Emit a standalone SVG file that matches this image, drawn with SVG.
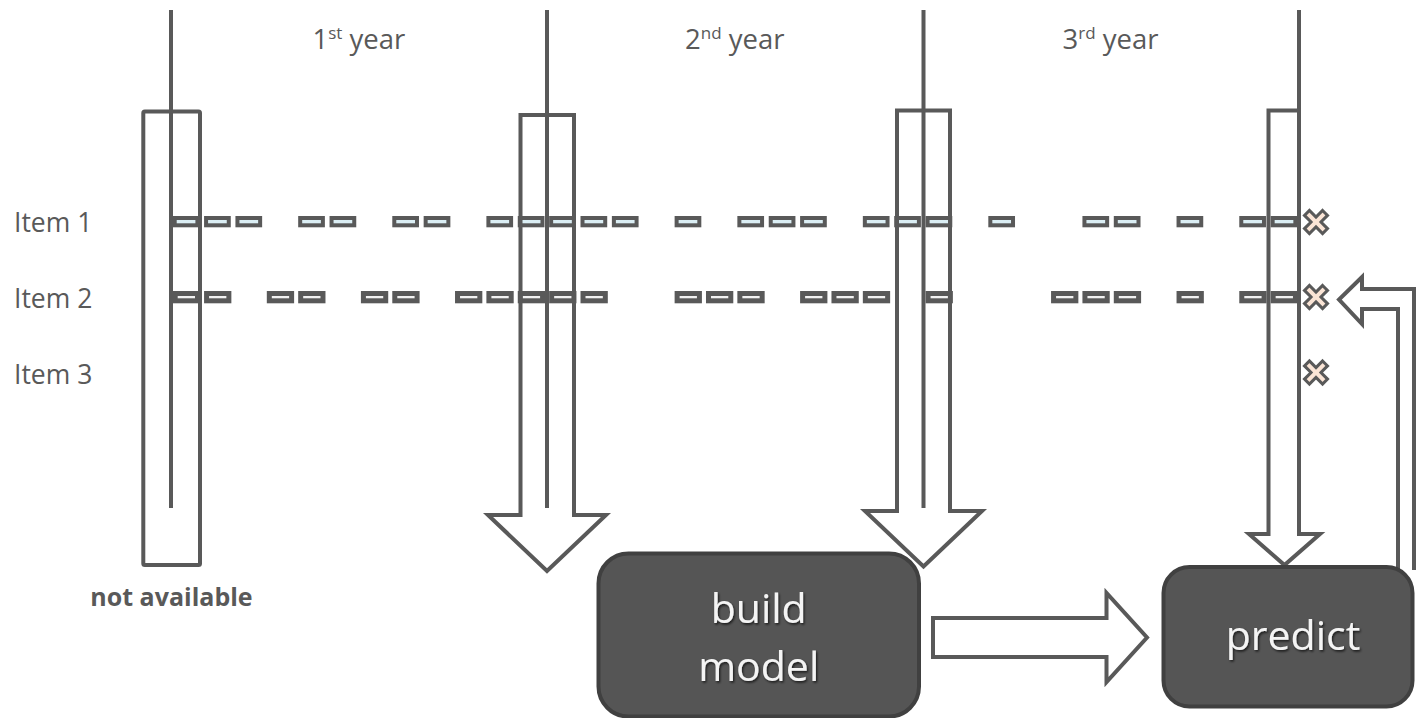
<svg xmlns="http://www.w3.org/2000/svg" width="1416" height="718" viewBox="0 0 1416 718">
<defs>
<style>
.ln{stroke:#595959;stroke-width:4;fill:none}
.ar{stroke:#595959;stroke-width:4;fill:none;stroke-linejoin:miter}
.d1{fill:#dbeef4;stroke:#595959;stroke-width:4}
.d2{fill:#f2f2f2;stroke:#595959;stroke-width:5}
.lbl{font-family:"Open Sans","Liberation Sans",sans-serif;font-size:26.5px;fill:#595959}
.yr{font-family:"Open Sans","Liberation Sans",sans-serif;font-size:27.5px;fill:#595959}
.box{fill:#555555;stroke:#404040;stroke-width:4}
.bt{font-family:"Open Sans","Liberation Sans",sans-serif;font-size:41px;fill:#f4f4f4;text-anchor:middle}
.xm{fill:#fbe5d6;stroke:#595959;stroke-width:3;stroke-linejoin:miter}
</style>
<filter id="sh" x="-10%" y="-20%" width="130%" height="150%">
<feDropShadow dx="1.2" dy="1.6" stdDeviation="1" flood-color="#000" flood-opacity="0.7"/>
</filter>
<polygon id="xshape" points="-3.5,-12.8 3.5,-12.8 3.5,-3.5 12.8,-3.5 12.8,3.5 3.5,3.5 3.5,12.8 -3.5,12.8 -3.5,3.5 -12.8,3.5 -12.8,-3.5 -3.5,-3.5" transform="rotate(45)"/>
</defs>
<rect width="1416" height="718" fill="#ffffff"/>

<g id="labels">
<text class="yr" x="312.5" y="49">1<tspan font-size="17" dy="-10">st</tspan><tspan dy="10"> year</tspan></text>
<text class="yr" x="685" y="49">2<tspan font-size="17" dy="-10">nd</tspan><tspan dy="10"> year</tspan></text>
<text class="yr" x="1062.5" y="49">3<tspan font-size="17" dy="-10">rd</tspan><tspan dy="10"> year</tspan></text>
<text class="lbl" x="14" y="232">Item 1</text>
<text class="lbl" x="14" y="308">Item 2</text>
<text class="lbl" x="14" y="384">Item 3</text>
<text x="171.5" y="606" font-family="'Open Sans','Liberation Sans',sans-serif" font-weight="bold" font-size="25" fill="#595959" text-anchor="middle">not available</text>
</g>

<g id="item1-records">
<rect class="d1" x="174.7" y="218" width="22.7" height="7.3"/>
<rect class="d1" x="206.07" y="218" width="22.7" height="7.3"/>
<rect class="d1" x="237.44" y="218" width="22.7" height="7.3"/>
<rect class="d1" x="300.18" y="218" width="22.7" height="7.3"/>
<rect class="d1" x="331.55" y="218" width="22.7" height="7.3"/>
<rect class="d1" x="394.29" y="218" width="22.7" height="7.3"/>
<rect class="d1" x="425.66" y="218" width="22.7" height="7.3"/>
<rect class="d1" x="488.4" y="218" width="22.7" height="7.3"/>
<rect class="d1" x="519.77" y="218" width="22.7" height="7.3"/>
<rect class="d1" x="551.14" y="218" width="22.7" height="7.3"/>
<rect class="d1" x="582.51" y="218" width="22.7" height="7.3"/>
<rect class="d1" x="613.88" y="218" width="22.7" height="7.3"/>
<rect class="d1" x="676.62" y="218" width="22.7" height="7.3"/>
<rect class="d1" x="739.36" y="218" width="22.7" height="7.3"/>
<rect class="d1" x="770.73" y="218" width="22.7" height="7.3"/>
<rect class="d1" x="802.1" y="218" width="22.7" height="7.3"/>
<rect class="d1" x="864.84" y="218" width="22.7" height="7.3"/>
<rect class="d1" x="896.21" y="218" width="22.7" height="7.3"/>
<rect class="d1" x="927.58" y="218" width="22.7" height="7.3"/>
<rect class="d1" x="990.32" y="218" width="22.7" height="7.3"/>
<rect class="d1" x="1084.43" y="218" width="22.7" height="7.3"/>
<rect class="d1" x="1115.8" y="218" width="22.7" height="7.3"/>
<rect class="d1" x="1178.54" y="218" width="22.7" height="7.3"/>
<rect class="d1" x="1241.28" y="218" width="22.7" height="7.3"/>
<rect class="d1" x="1272.65" y="218" width="22.7" height="7.3"/>
</g>

<g id="item2-records">
<rect class="d2" x="175.2" y="293.5" width="22.3" height="7.3"/>
<rect class="d2" x="206.57" y="293.5" width="22.3" height="7.3"/>
<rect class="d2" x="269.31" y="293.5" width="22.3" height="7.3"/>
<rect class="d2" x="300.68" y="293.5" width="22.3" height="7.3"/>
<rect class="d2" x="363.42" y="293.5" width="22.3" height="7.3"/>
<rect class="d2" x="394.79" y="293.5" width="22.3" height="7.3"/>
<rect class="d2" x="457.53" y="293.5" width="22.3" height="7.3"/>
<rect class="d2" x="488.9" y="293.5" width="22.3" height="7.3"/>
<rect class="d2" x="520.27" y="293.5" width="22.3" height="7.3"/>
<rect class="d2" x="551.64" y="293.5" width="22.3" height="7.3"/>
<rect class="d2" x="583.01" y="293.5" width="22.3" height="7.3"/>
<rect class="d2" x="677.12" y="293.5" width="22.3" height="7.3"/>
<rect class="d2" x="708.49" y="293.5" width="22.3" height="7.3"/>
<rect class="d2" x="739.86" y="293.5" width="22.3" height="7.3"/>
<rect class="d2" x="802.6" y="293.5" width="22.3" height="7.3"/>
<rect class="d2" x="833.97" y="293.5" width="22.3" height="7.3"/>
<rect class="d2" x="865.34" y="293.5" width="22.3" height="7.3"/>
<rect class="d2" x="928.08" y="293.5" width="22.3" height="7.3"/>
<rect class="d2" x="1053.56" y="293.5" width="22.3" height="7.3"/>
<rect class="d2" x="1084.93" y="293.5" width="22.3" height="7.3"/>
<rect class="d2" x="1116.3" y="293.5" width="22.3" height="7.3"/>
<rect class="d2" x="1179.04" y="293.5" width="22.3" height="7.3"/>
<rect class="d2" x="1241.78" y="293.5" width="22.3" height="7.3"/>
<rect class="d2" x="1273.15" y="293.5" width="22.3" height="7.3"/>
</g>

<g id="missing-marks">
<use href="#xshape" class="xm" x="1316" y="222"/>
<use href="#xshape" class="xm" x="1316" y="297"/>
<use href="#xshape" class="xm" x="1316" y="372.5"/>
</g>

<g id="connectors">
<line class="ln" x1="171" y1="10" x2="171" y2="508"/>
<line class="ln" x1="547" y1="10" x2="547" y2="508"/>
<line class="ln" x1="923.5" y1="10" x2="923.5" y2="508"/>
<line class="ln" x1="1299" y1="10" x2="1299" y2="534"/>
<rect class="ln" x="143.3" y="111.5" width="56.7" height="453.5" rx="1.5"/>
<path class="ar" d="M520.5,115 H574 V515 H606 L547,571 L488,515 H520.5 Z"/>
<path class="ar" d="M897,110.5 H950 V511 H982 L923.5,566.5 L865,511 H897 Z"/>
<path class="ar" d="M1268.5,110.5 H1299 V534 H1320 L1284.5,565 L1249,534 H1268.5 Z"/>
<path class="ar" d="M933,618 H1106.5 V593 L1147,637.5 L1106.5,682 V657 H933 Z"/>
<path class="ar" d="M1398,570 V309 H1362 V324 L1339,299.5 L1362,277 V289 H1414 V570"/>
</g>

<g id="node-build">
<rect class="box" x="598.5" y="553.5" width="320.5" height="163" rx="30"/>
<text class="bt" x="758.7" y="623.3" filter="url(#sh)">build</text>
<text class="bt" x="758.7" y="681" filter="url(#sh)">model</text>
</g>

<g id="node-predict">
<rect class="box" x="1163.5" y="567" width="249" height="139.5" rx="26"/>
<text class="bt" x="1293" y="650" filter="url(#sh)">predict</text>
</g>
</svg>
